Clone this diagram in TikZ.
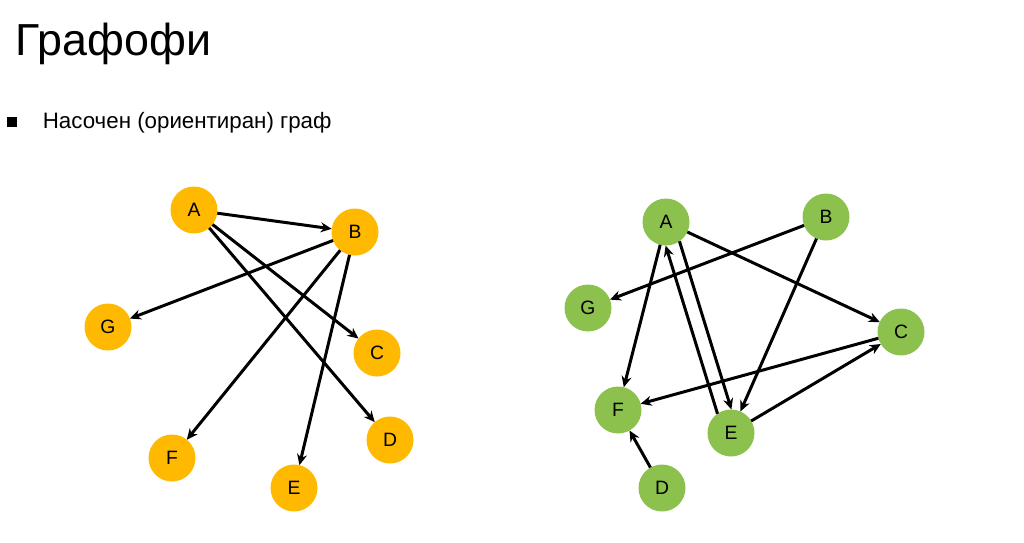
\documentclass[tikz,border=0pt]{standalone}
\usepackage{fontspec}
\setmainfont{Liberation Sans}
\usetikzlibrary{arrows.meta}
\definecolor{vorange}{HTML}{FFB900}
\definecolor{vgreen}{HTML}{8CC14E}

\begin{document}
\begin{tikzpicture}[every node/.style={outer sep=0pt},
  vertex/.style={circle, minimum size=0.94cm, inner sep=0pt, font=\fontsize{11}{13}\selectfont},
  overtex/.style={vertex, fill=vorange},
  gvertex/.style={vertex, fill=vgreen},
  arc/.style={-{Stealth[length=2.2mm,width=2mm]}, line width=1.7pt, black}]
\useasboundingbox (0,0) rectangle (20.48,-10.84);

\node[anchor=base west, font=\fontsize{25.5}{30}\selectfont] (title) at (0.20,-1.10) {Графофи};
\node[fill=black, minimum size=0.2cm, inner sep=0pt] (bullet) at (0.24,-2.44) {};
\node[anchor=base west, font=\fontsize{12.7}{15}\selectfont] (item) at (0.74,-2.56) {Насочен (ориентиран) граф};

\node[overtex] (lA) at (3.88,-4.20) {A};
\node[overtex] (lB) at (7.10,-4.64) {B};
\node[overtex] (lC) at (7.54,-7.06) {C};
\node[overtex] (lD) at (7.80,-8.80) {D};
\node[overtex] (lE) at (5.88,-9.76) {E};
\node[overtex] (lF) at (3.44,-9.16) {F};
\node[overtex] (lG) at (2.16,-6.54) {G};

\draw[arc] (lA) -- (lB);
\draw[arc] (lA) -- (lC);
\draw[arc] (lA) -- (lD);
\draw[arc] (lB) -- (lG);
\draw[arc] (lB) -- (lF);
\draw[arc] (lB) -- (lE);

\node[gvertex] (rA) at (13.32,-4.44) {A};
\node[gvertex] (rB) at (16.52,-4.34) {B};
\node[gvertex] (rC) at (18.02,-6.64) {C};
\node[gvertex] (rD) at (13.24,-9.76) {D};
\node[gvertex] (rE) at (14.62,-8.66) {E};
\node[gvertex] (rF) at (12.36,-8.20) {F};
\node[gvertex] (rG) at (11.76,-6.16) {G};

\draw[arc] (rA) -- (rC);
\draw[arc] (rA) -- (rF);
\draw[arc] (rA.-55) -- (rE.89);
\draw[arc] (rE.125) -- (rA.-91);
\draw[arc] (rB) -- (rG);
\draw[arc] (rB) -- (rE);
\draw[arc] (rC) -- (rF);
\draw[arc] (rE) -- (rC);
\draw[arc] (rD) -- (rF);
\end{tikzpicture}
\end{document}
